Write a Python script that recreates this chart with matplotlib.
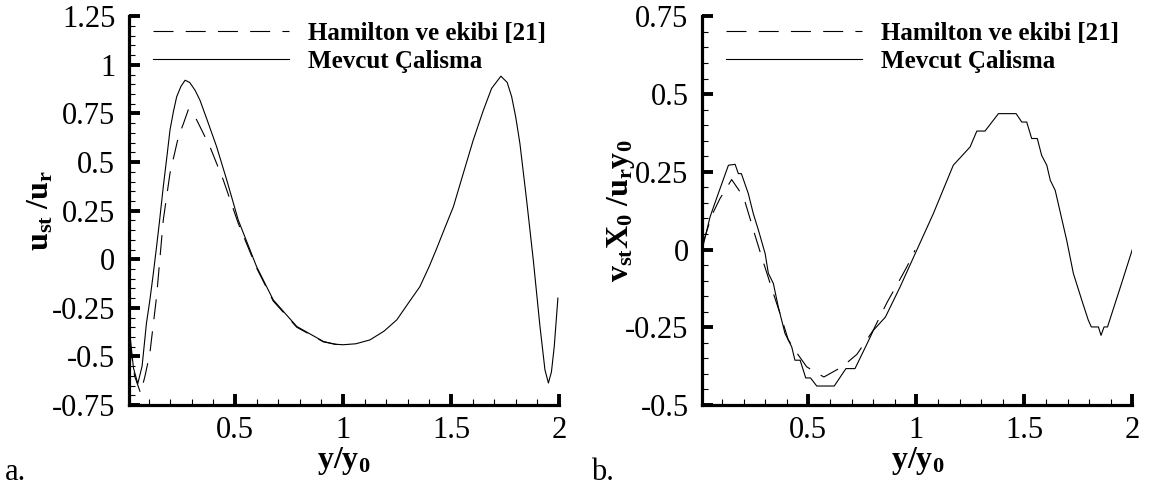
import matplotlib
matplotlib.use("Agg")
import matplotlib.pyplot as plt
from matplotlib.ticker import FixedLocator, MultipleLocator

plt.rcParams['font.family'] = ['Liberation Serif', 'DejaVu Serif']
plt.rcParams['mathtext.fontset'] = 'custom'
plt.rcParams['mathtext.rm'] = 'Liberation Serif'
plt.rcParams['mathtext.bf'] = 'Liberation Serif:bold'
plt.rcParams['mathtext.it'] = 'Liberation Serif:italic'

# ---------------- data ----------------
series_names = ["Hamilton ve ekibi [21]", "Mevcut Çalisma"]

# panel a: u_st / u_r
a_solid_x = [0.012, 0.03, 0.05, 0.07, 0.09, 0.106, 0.12, 0.137, 0.15, 0.168, 0.185,
             0.199, 0.215, 0.23, 0.25, 0.269, 0.29, 0.315, 0.338, 0.37, 0.415, 0.462,
             0.515, 0.56, 0.6, 0.64, 0.677, 0.73, 0.786, 0.85, 0.909, 0.96, 1.0, 1.06,
             1.125, 1.19, 1.249, 1.30, 1.356, 1.40, 1.434, 1.47, 1.511, 1.557, 1.603,
             1.65, 1.688, 1.731, 1.76, 1.781, 1.80, 1.819, 1.85, 1.881, 1.912, 1.935,
             1.951, 1.965, 1.978, 1.995]
a_solid_y = [-0.37, -0.56, -0.64, -0.55, -0.33, -0.21, -0.09, 0.065, 0.19, 0.373, 0.53,
             0.664, 0.76, 0.836, 0.89, 0.921, 0.91, 0.87, 0.818, 0.72, 0.579, 0.407,
             0.202, 0.075, -0.038, -0.127, -0.209, -0.276, -0.346, -0.386, -0.423,
             -0.437, -0.44, -0.435, -0.415, -0.37, -0.312, -0.23, -0.141, -0.035,
             0.056, 0.157, 0.27, 0.442, 0.613, 0.767, 0.879, 0.942, 0.91, 0.836, 0.73,
             0.596, 0.305, -0.004, -0.346, -0.569, -0.637, -0.58, -0.45, -0.2]
a_dash_x = [0.012, 0.035, 0.063, 0.083, 0.106, 0.137, 0.168, 0.199, 0.238, 0.262,
            0.284, 0.30, 0.323, 0.384, 0.446, 0.515, 0.6, 0.677, 0.786, 0.909, 1.0]
a_dash_y = [-0.42, -0.60, -0.689, -0.603, -0.483, -0.192, 0.202, 0.442, 0.63, 0.70,
            0.77, 0.755, 0.716, 0.579, 0.407, 0.185, -0.045, -0.215, -0.35, -0.425, -0.445]

# panel b: v_st x0 / (u_r y0)
b_solid_x = [0.012, 0.045, 0.083, 0.13, 0.161, 0.176, 0.19, 0.222, 0.245, 0.269, 0.3,
             0.315, 0.338, 0.361, 0.392, 0.423, 0.438, 0.462, 0.488, 0.51, 0.539, 0.62,
             0.674, 0.716, 0.776, 0.801, 0.857, 0.925, 1.002, 1.079, 1.171, 1.249, 1.28,
             1.318, 1.38, 1.462, 1.488, 1.511, 1.534, 1.56, 1.58, 1.604, 1.62, 1.643,
             1.696, 1.727, 1.766, 1.796, 1.81, 1.843, 1.855, 1.869, 1.885, 1.945, 2.0]
b_solid_y = [0.01, 0.105, 0.18, 0.271, 0.274, 0.244, 0.244, 0.18, 0.116, 0.062, -0.013,
             -0.077, -0.109, -0.185, -0.27, -0.313, -0.356, -0.356, -0.413, -0.413,
             -0.439, -0.439, -0.383, -0.383, -0.297, -0.26, -0.217, -0.12, -0.002, 0.116,
             0.271, 0.33, 0.381, 0.381, 0.437, 0.437, 0.41, 0.41, 0.357, 0.357, 0.303,
             0.271, 0.223, 0.19, 0.03, -0.077, -0.163, -0.227, -0.249, -0.249, -0.276,
             -0.249, -0.249, -0.12, 0.0]
b_dash_x = [0.012, 0.053, 0.091, 0.145, 0.2, 0.23, 0.253, 0.284, 0.338, 0.369, 0.407,
            0.438, 0.492, 0.531, 0.572, 0.657, 0.725, 0.80, 0.866, 0.909, 0.956, 0.994]
b_dash_y = [0.02, 0.11, 0.164, 0.225, 0.169, 0.10, 0.046, -0.024, -0.141, -0.206, -0.29,
            -0.324, -0.377, -0.394, -0.41, -0.377, -0.337, -0.26, -0.168, -0.115,
            -0.056, -0.002]

x_ticks = [0.5, 1, 1.5, 2]
x_ticklabels = ["0.5", "1", "1.5", "2"]
a_yticks = [-0.75, -0.5, -0.25, 0, 0.25, 0.5, 0.75, 1, 1.25]
a_yticklabels = ["-0.75", "-0.5", "-0.25", "0", "0.25", "0.5", "0.75", "1", "1.25"]
b_yticks = [-0.5, -0.25, 0, 0.25, 0.5, 0.75]
b_yticklabels = ["-0.5", "-0.25", "0", "0.25", "0.5", "0.75"]

# ---------------- figure ----------------
W, H = 1149, 490
fig = plt.figure(figsize=(W / 100, H / 100), dpi=100)

ax_a = fig.add_axes([0.1124, 0.1735, 0.3741, 0.7932])
ax_b = fig.add_axes([0.6114, 0.1735, 0.3741, 0.7932])

TICK_FS = 22
LEG_FS = 18
LAB_FS = 23


def style(ax, yticks, yticklabels, ylim, ylabel, ylabel_x):
    ax.set_xlim(0.01, 2.0)
    ax.set_ylim(*ylim)
    for s in ['top', 'right']:
        ax.spines[s].set_visible(False)
    for s in ['left', 'bottom']:
        ax.spines[s].set_linewidth(2.3)
    ax.xaxis.set_major_locator(FixedLocator(x_ticks))
    ax.set_xticklabels(x_ticklabels)
    ax.xaxis.set_minor_locator(MultipleLocator(0.1))
    ax.yaxis.set_major_locator(FixedLocator(yticks))
    ax.set_yticklabels(yticklabels)
    ax.yaxis.set_minor_locator(MultipleLocator(0.05))
    ax.tick_params(which='major', direction='in', length=8, width=2.8,
                   labelsize=TICK_FS, pad=10)
    ax.tick_params(which='minor', direction='in', length=4, width=0.8)
    ax.tick_params(axis='x', which='major', pad=8)
    ax.set_xlabel(r'$\mathbf{y/y_0}$', fontsize=LAB_FS)
    ax.xaxis.set_label_coords(0.5, -0.145)
    ax.xaxis.label.set_va('center')
    ax.set_ylabel(ylabel, fontsize=LAB_FS)
    ax.yaxis.set_label_coords(ylabel_x, 0.5)
    ax.yaxis.label.set_va('center')


for ax, sx, sy, dx, dy in [(ax_a, a_solid_x, a_solid_y, a_dash_x, a_dash_y),
                           (ax_b, b_solid_x, b_solid_y, b_dash_x, b_dash_y)]:
    ax.plot(dx, dy, color='black', lw=0.8, dashes=(18, 11), label=series_names[0])
    ax.plot(sx, sy, color='black', lw=0.8, label=series_names[1])
    ax.legend(loc='upper left', bbox_to_anchor=(0.055, 0.985), frameon=False,
              borderpad=0, borderaxespad=0, handlelength=5.45, handletextpad=0.76,
              labelspacing=0.18, prop={'family': 'Liberation Serif',
                                       'weight': 'bold', 'size': LEG_FS})

style(ax_a, a_yticks, a_yticklabels, (-0.75, 1.25),
      r'$\mathbf{u_{st}\ /u_r}$', -0.205)
style(ax_b, b_yticks, b_yticklabels, (-0.5, 0.75),
      r'$\mathbf{v_{st}X_0\ /u_r y_0}$', -0.19)

fig.text(5 / W, 1 - 472 / H, 'a.', fontsize=TICK_FS, va='center', ha='left')
fig.text(591 / W, 1 - 472 / H, 'b.', fontsize=TICK_FS, va='center', ha='left')

fig.savefig('out.png', dpi=100)
